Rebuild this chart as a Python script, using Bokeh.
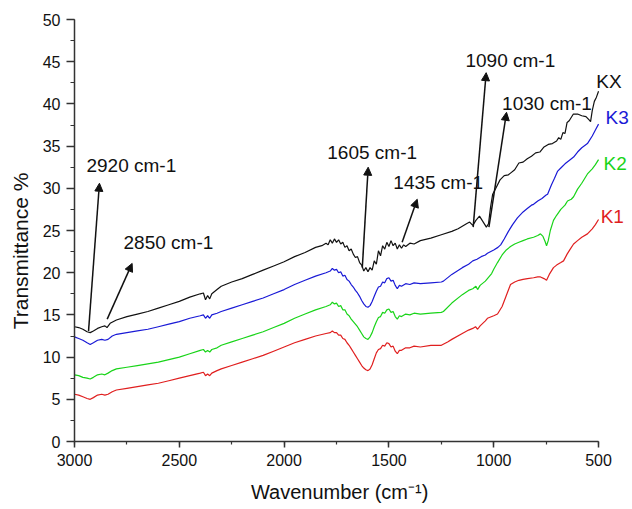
from bokeh.plotting import figure
from bokeh.models import Range1d, SingleIntervalTicker, Label, Arrow, NormalHead
from bokeh.embed import file_html
from bokeh.resources import INLINE

FONT = "Liberation Sans"

# FTIR spectra: wavenumber (cm-1) and transmittance (%)
kx_w = [3000, 2980, 2960, 2940, 2925, 2910, 2890, 2870, 2855, 2845, 2830, 2800, 2750, 2700, 2650,
        2600, 2550, 2500, 2450, 2400, 2385, 2375, 2365, 2355, 2345, 2320, 2300, 2250, 2200, 2150,
        2100, 2050, 2000, 1950, 1900, 1850, 1820, 1800, 1790, 1780, 1770, 1760, 1750, 1740, 1730,
        1720, 1710, 1700, 1690, 1680, 1670, 1660, 1650, 1640, 1630, 1620, 1610, 1600, 1590, 1580,
        1570, 1560, 1550, 1540, 1530, 1520, 1510, 1500, 1490, 1480, 1470, 1460, 1450, 1440, 1430,
        1420, 1400, 1380, 1350, 1300, 1250, 1200, 1170, 1150, 1130, 1115, 1100, 1085, 1068, 1050,
        1035, 1025, 1015, 1005, 990, 970, 950, 930, 920, 900, 880, 860, 840, 820, 800,
        780, 760, 740, 720, 700, 690, 680, 670, 660, 650, 640, 620, 600, 580, 560,
        545, 538, 530, 520, 510, 500]
kx_t = [13.6, 13.5, 13.3, 13.0, 12.9, 13.1, 13.4, 13.6, 13.7, 13.5, 14.0, 14.4, 14.8, 15.1, 15.4,
        15.8, 16.2, 16.6, 17.1, 17.5, 17.6, 16.8, 17.3, 16.9, 17.5, 18.0, 18.4, 18.9, 19.3, 19.8,
        20.3, 20.8, 21.3, 21.9, 22.4, 23.0, 23.2, 23.5, 23.3, 23.9, 23.5, 24.0, 23.6, 23.9, 23.4,
        23.6, 23.0, 23.2, 22.6, 22.8, 22.2, 21.8, 21.9, 21.2, 20.9, 20.2, 20.6, 20.1, 20.6, 20.3,
        21.4, 21.0, 22.6, 22.0, 23.2, 22.8, 23.6, 23.1, 23.8, 23.2, 23.5, 22.8, 23.3, 22.9, 23.3,
        23.1, 23.5, 23.4, 23.8, 24.1, 24.5, 24.9, 25.2, 25.5, 25.8, 26.0, 25.6, 26.2, 26.7, 26.0,
        25.4, 25.8, 27.8, 29.3, 30.0, 31.0, 31.5, 31.6, 31.8, 32.2, 33.0, 33.1, 33.5, 33.8, 34.2,
        34.3, 34.9, 35.2, 35.3, 35.6, 36.0, 35.8, 36.6, 36.5, 37.8, 38.0, 38.8, 38.8, 38.6, 38.5,
        38.1, 37.9, 39.2, 40.3, 40.8, 41.5]

k3_w = [3000, 2980, 2960, 2940, 2925, 2910, 2890, 2870, 2855, 2840, 2820, 2800, 2750, 2700, 2650,
        2600, 2550, 2500, 2450, 2400, 2385, 2375, 2365, 2355, 2345, 2320, 2300, 2250, 2200, 2150,
        2100, 2050, 2000, 1950, 1900, 1850, 1800, 1780, 1770, 1760, 1750, 1740, 1730, 1720, 1710,
        1700, 1690, 1680, 1670, 1660, 1650, 1640, 1630, 1620, 1610, 1600, 1590, 1580, 1570, 1560,
        1550, 1540, 1530, 1520, 1510, 1500, 1490, 1480, 1470, 1460, 1450, 1440, 1420, 1400, 1380,
        1350, 1300, 1250, 1240, 1200, 1150, 1120, 1100, 1080, 1060, 1040, 1030, 1000, 980, 967,
        950, 930, 910, 887, 860, 840, 820, 810, 790, 770, 750, 743, 725, 710, 696,
        680, 660, 640, 619, 600, 580, 553, 530, 515, 500]
k3_t = [12.4, 12.2, 12.0, 11.7, 11.5, 11.7, 12.0, 12.1, 12.0, 12.1, 12.5, 12.7, 12.9, 13.1, 13.3,
        13.6, 13.9, 14.2, 14.6, 14.9, 15.0, 14.6, 14.9, 14.6, 15.0, 15.2, 15.4, 15.8, 16.2, 16.6,
        17.0, 17.5, 18.0, 18.6, 19.1, 19.6, 20.0, 20.2, 20.5, 20.3, 20.4, 20.0, 20.1, 19.6, 19.7,
        19.2, 19.0, 18.6, 18.3, 17.9, 17.6, 17.2, 16.7, 16.3, 16.0, 15.9, 16.1, 16.6, 17.2, 17.8,
        18.3, 18.4, 18.9, 18.8, 19.3, 19.4, 19.0, 19.1, 18.5, 18.1, 18.5, 18.4, 18.7, 18.6, 18.8,
        18.7, 18.8, 18.9, 19.0, 19.8, 20.6, 21.0, 21.4, 21.6, 21.9, 22.1, 22.3, 22.7, 23.0, 23.3,
        24.0, 24.9, 25.7, 26.5, 27.2, 27.6, 28.0, 28.1, 28.5, 28.8, 29.2, 29.3, 30.4, 31.2, 32.0,
        32.4, 32.9, 33.3, 33.7, 34.3, 34.8, 35.3, 36.2, 36.9, 37.6]

k2_w = [3000, 2980, 2960, 2940, 2925, 2910, 2890, 2870, 2855, 2840, 2820, 2800, 2750, 2700, 2650,
        2600, 2550, 2500, 2450, 2400, 2385, 2375, 2365, 2355, 2345, 2320, 2300, 2250, 2200, 2150,
        2100, 2050, 2000, 1950, 1900, 1850, 1800, 1780, 1770, 1760, 1750, 1740, 1730, 1720, 1710,
        1700, 1690, 1680, 1670, 1660, 1650, 1640, 1630, 1620, 1610, 1600, 1590, 1580, 1570, 1560,
        1550, 1540, 1530, 1520, 1510, 1500, 1490, 1480, 1470, 1460, 1450, 1440, 1420, 1400, 1380,
        1350, 1300, 1250, 1240, 1200, 1150, 1120, 1100, 1085, 1077, 1065, 1040, 1030, 1010, 1000,
        982, 960, 940, 920, 900, 880, 860, 840, 810, 790, 777, 765, 755, 748, 740,
        730, 715, 700, 680, 660, 648, 630, 619, 600, 580, 553, 530, 515, 500]
k2_t = [7.9, 7.8, 7.6, 7.5, 7.4, 7.6, 7.9, 8.0, 7.9, 8.1, 8.4, 8.6, 8.8, 9.0, 9.2,
        9.4, 9.7, 10.0, 10.4, 10.8, 10.9, 10.6, 10.8, 10.6, 10.9, 11.1, 11.4, 11.8, 12.2, 12.6,
        13.0, 13.5, 14.0, 14.6, 15.1, 15.6, 16.0, 16.2, 16.5, 16.3, 16.4, 16.0, 16.1, 15.6, 15.6,
        15.1, 14.9, 14.5, 14.2, 13.9, 13.6, 13.2, 12.8, 12.4, 12.2, 12.1, 12.4, 12.9, 13.6, 14.2,
        14.7, 14.8, 15.3, 15.2, 15.6, 15.7, 15.3, 15.4, 14.8, 14.5, 14.9, 14.8, 15.1, 15.0, 15.2,
        15.1, 15.2, 15.3, 15.4, 16.4, 17.4, 17.9, 18.1, 18.4, 18.0, 18.5, 19.0, 19.3, 19.9, 20.4,
        21.2, 22.1, 22.7, 23.1, 23.4, 23.6, 23.8, 24.0, 24.2, 24.4, 24.6, 24.3, 23.7, 23.2, 23.8,
        25.0, 26.2, 26.8, 27.5, 28.0, 28.5, 28.7, 29.0, 29.9, 30.6, 31.7, 32.3, 32.8, 33.4]

k1_w = [3000, 2980, 2960, 2940, 2925, 2910, 2890, 2870, 2855, 2840, 2820, 2800, 2750, 2700, 2650,
        2600, 2550, 2500, 2450, 2400, 2385, 2375, 2365, 2355, 2345, 2320, 2300, 2250, 2200, 2150,
        2100, 2050, 2000, 1950, 1900, 1850, 1800, 1780, 1770, 1760, 1750, 1740, 1730, 1720, 1710,
        1700, 1690, 1680, 1670, 1660, 1650, 1640, 1630, 1620, 1610, 1600, 1590, 1580, 1570, 1560,
        1550, 1540, 1530, 1520, 1510, 1500, 1490, 1480, 1470, 1460, 1450, 1440, 1420, 1400, 1380,
        1350, 1300, 1250, 1220, 1200, 1150, 1120, 1100, 1087, 1077, 1065, 1040, 1030, 1000, 982,
        960, 940, 920, 900, 880, 860, 839, 810, 790, 777, 760, 748, 735, 715, 700,
        680, 667, 650, 635, 619, 600, 580, 553, 530, 515, 500]
k1_t = [5.6, 5.5, 5.3, 5.1, 5.0, 5.2, 5.5, 5.6, 5.5, 5.6, 5.9, 6.1, 6.3, 6.5, 6.7,
        6.9, 7.2, 7.5, 7.8, 8.1, 8.2, 7.8, 8.0, 7.8, 8.1, 8.4, 8.6, 9.0, 9.4, 9.8,
        10.2, 10.7, 11.2, 11.7, 12.1, 12.5, 12.8, 12.9, 13.1, 12.9, 12.9, 12.6, 12.6, 12.2, 12.1,
        11.7, 11.4, 11.0, 10.6, 10.2, 9.8, 9.4, 9.0, 8.7, 8.5, 8.4, 8.6, 9.1, 9.8, 10.5,
        10.9, 11.0, 11.4, 11.3, 11.7, 11.6, 11.2, 11.3, 10.7, 10.4, 10.8, 10.8, 11.1, 11.1, 11.3,
        11.2, 11.4, 11.4, 11.8, 12.1, 12.8, 13.2, 13.4, 13.6, 13.3, 13.7, 14.3, 14.6, 14.9, 15.1,
        16.0, 17.3, 18.6, 18.9, 19.1, 19.2, 19.3, 19.4, 19.5, 19.5, 19.3, 19.1, 19.8, 20.6, 20.9,
        21.2, 21.4, 22.2, 22.8, 23.4, 23.8, 24.2, 24.6, 25.2, 25.7, 26.3]

series_names = ["KX", "K3", "K2", "K1"]
series_colors = ["#111111", "#1a1ad6", "#19d419", "#e01f1f"]
series_w = [kx_w, k3_w, k2_w, k1_w]
series_t = [kx_t, k3_t, k2_t, k1_t]
# where each curve's name is written (just right of the 500 cm-1 end)
name_x = [511, 467, 476, 490]
name_y = [42.7, 38.4, 32.9, 26.7]

# band annotations: label, label anchor, arrow tail (on the spectrum) and head
band_text = ["2920 cm-1", "2850 cm-1", "1605 cm-1", "1435 cm-1", "1090 cm-1", "1030 cm-1"]
band_label_x = [2943, 2766, 1794, 1479, 1135, 960]
band_label_y = [32.7, 23.6, 34.2, 30.7, 45.1, 40.0]
band_tail_x = [2933, 2844, 1627, 1437, 1098, 1023]
band_tail_y = [13.1, 14.5, 20.6, 23.6, 25.4, 25.4]
band_head_x = [2881, 2725, 1599, 1365, 1036, 939]
band_head_y = [30.6, 21.1, 32.5, 28.7, 43.7, 39.0]

# the frame runs past 500 cm-1 so the curve names fit; the axis stops at 500
p = figure(width=632, height=509, output_backend="svg", toolbar_location=None,
           x_range=Range1d(3000, 338), y_range=Range1d(0, 50),
           min_border_left=74, min_border_right=0, min_border_top=19, min_border_bottom=68)
p.outline_line_color = None
p.grid.visible = False
p.background_fill_color = "white"
p.border_fill_color = "white"

for w, t, c in zip(series_w, series_t, series_colors):
    p.line(w, t, line_color=c, line_width=1.2)

for ax in (p.xaxis[0], p.yaxis[0]):
    ax.axis_line_color = "#333333"
    ax.axis_line_width = 1.5
    ax.major_tick_line_color = "#333333"
    ax.minor_tick_line_color = "#333333"
    ax.major_tick_line_width = 1.5
    ax.minor_tick_line_width = 1.2
    ax.major_tick_in = 0
    ax.minor_tick_in = 0
    ax.major_label_text_font = FONT
    ax.major_label_text_font_size = "16px"
    ax.major_label_text_color = "#111111"
    ax.axis_label_text_font = FONT
    ax.axis_label_text_font_style = "normal"
    ax.axis_label_text_color = "#111111"

p.xaxis.bounds = (3000, 500)
p.xaxis.major_tick_out = 6
p.xaxis.minor_tick_out = 3
p.yaxis.major_tick_out = 8
p.yaxis.minor_tick_out = 4
p.xaxis.ticker = SingleIntervalTicker(interval=500, num_minor_ticks=2)
p.yaxis.ticker = SingleIntervalTicker(interval=5, num_minor_ticks=2)
# trailing no-break spaces keep the titles centred on the axis span rather than the frame
p.xaxis.axis_label = "Wavenumber (cm\u207b\u00b9)" + "\u00a0" * 5
p.yaxis.axis_label = "Transmittance %" + "\u00a0" * 7
p.xaxis.axis_label_text_font_size = "20px"
p.yaxis.axis_label_text_font_size = "21px"
p.xaxis.major_label_standoff = 6
p.yaxis.major_label_standoff = 6
p.xaxis.axis_label_standoff = 12
p.yaxis.axis_label_standoff = 8

for name, c, x, y in zip(series_names, series_colors, name_x, name_y):
    p.add_layout(Label(x=x, y=y, text=name, text_color=c, text_font=FONT,
                       text_font_size="19px", text_align="left", text_baseline="middle"))

for txt, lx, ly, tx, ty, hx, hy in zip(band_text, band_label_x, band_label_y,
                                        band_tail_x, band_tail_y, band_head_x, band_head_y):
    p.add_layout(Arrow(x_start=tx, y_start=ty, x_end=hx, y_end=hy, line_color="#111111",
                       line_width=1.5,
                       end=NormalHead(size=8, fill_color="#111111", line_color="#111111")))
    p.add_layout(Label(x=lx, y=ly, text=txt, text_color="#111111", text_font=FONT,
                       text_font_size="19px", text_align="left", text_baseline="middle"))

open("out.html", "w").write(file_html(p, INLINE))
